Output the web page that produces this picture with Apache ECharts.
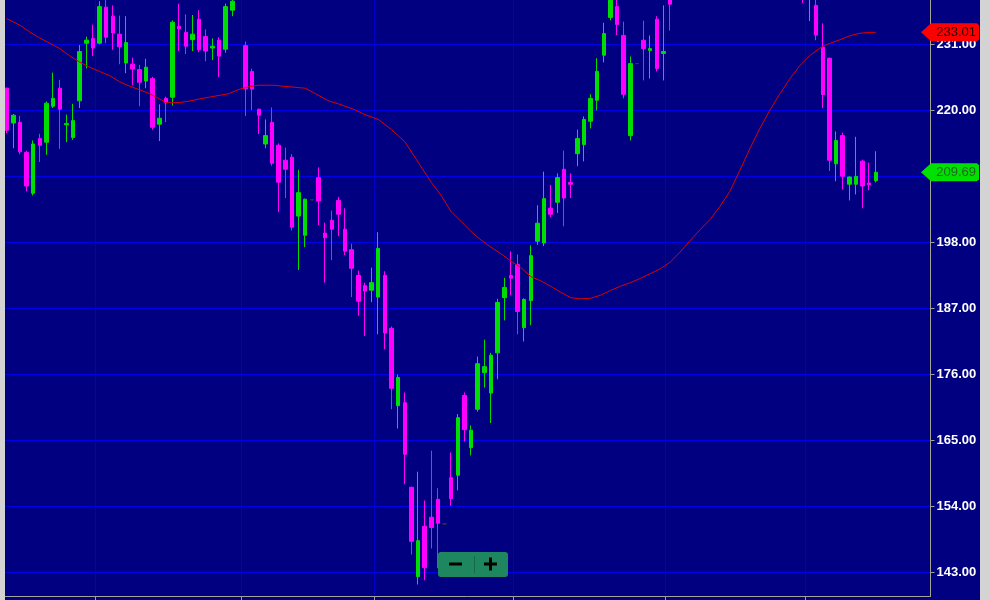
<!DOCTYPE html>
<html><head><meta charset="utf-8">
<script src="https://cdn.jsdelivr.net/npm/echarts@6/dist/echarts.min.js"></script>
<style>
html,body{margin:0;padding:0;background:#d3d3d3;width:990px;height:600px;overflow:hidden}
#c{position:absolute;left:5px;top:0;width:975px;height:600px}
</style>
</head><body><div id="c"></div>
<script>
// ---- data ----
const opens = [223.7,217.9,218.0,213.0,206.2,215.3,214.7,220.7,223.7,217.6,215.5,221.6,231.2,232.0,231.2,237.2,235.7,232.7,227.9,227.7,
226.8,224.9,225.3,217.7,222.0,222.2,234.0,233.0,231.8,235.2,232.3,230.4,231.7,230.2,236.7,240.0,230.8,226.5,220.2,214.4,
218.0,214.2,211.7,212.2,202.4,199.2,205.1,208.8,199.55,201.7,205.0,200.2,196.8,192.5,190.8,190.05,188.9,192.5,183.7,170.8,
171.3,157.2,142.3,150.7,152.2,155.2,151.1,158.8,159.2,172.5,163.8,170.2,176.3,172.9,179.6,188.8,192.5,194.3,183.8,188.3,
198.2,197.9,203.7,204.7,210.2,208.0,212.8,214.3,218.2,221.7,229.2,235.5,237.3,232.5,215.8,227.8,231.7,230.0,235.2,229.5,
239.5,240.5,244.5,248.5,246.5,251.0,254.0,252.5,256.5,259.5,257.5,261.0,259.0,255.0,257.0,252.5,253.5,249.0,250.0,246.5,
243.0,239.0,237.5,230.55,228.7,211.1,215.8,207.7,207.7,211.55,207.9,208.3];
const closes = [216.7,219.2,213.1,207.4,214.4,214.2,221.2,222.0,220.2,217.8,218.3,229.8,231.7,230.4,237.3,232.2,232.9,230.6,231.3,226.9,
224.7,227.2,217.2,218.7,221.3,234.7,233.6,230.7,232.7,230.1,229.9,230.7,229.05,237.3,238.2,241.5,223.6,223.55,219.2,215.8,
211.2,208.05,210.2,200.55,206.3,205.2,205.1,204.9,198.8,200.2,202.7,196.55,193.7,188.2,189.9,191.3,197.0,182.9,173.7,175.5,
162.7,148.2,148.3,143.8,150.5,151.2,151.1,155.3,168.8,166.8,166.7,177.8,177.3,179.2,188.0,190.5,192.05,186.5,188.5,195.8,
201.2,205.3,202.7,208.8,205.4,207.7,215.3,218.5,222.0,226.5,232.8,239.5,234.3,222.7,227.8,227.8,230.3,230.3,227.0,229.8,
237.7,244.0,248.0,246.0,250.5,254.5,252.0,256.0,259.0,257.0,261.5,259.5,255.5,257.5,253.0,254.0,249.5,250.5,246.0,244.0,
240.0,241.5,232.55,222.65,211.7,215.0,209.05,208.9,209.0,207.4,207.6,209.69];
const lows = [216.2,213.7,212.7,206.5,205.8,211.4,212.6,220.4,213.6,214.7,215.1,220.4,227.0,229.05,231.0,231.2,230.1,227.7,226.2,224.2,
220.7,223.7,216.8,214.9,218.05,220.8,229.9,229.4,229.9,229.7,228.2,228.4,225.55,229.6,235.7,238.9,219.05,220.05,216.05,213.7,
210.8,203.05,205.4,200.0,193.4,197.2,205.1,200.9,191.3,195.05,199.05,195.9,188.9,185.8,182.4,188.05,182.7,180.2,170.2,167.0,
157.7,146.0,141.0,141.7,147.0,143.7,151.1,154.1,156.7,164.8,162.5,169.8,173.8,167.9,175.2,185.0,189.2,182.7,181.5,184.2,
197.6,197.4,202.2,202.9,200.7,205.4,210.7,211.5,217.0,220.0,228.0,235.0,232.55,222.0,215.0,227.8,225.0,225.3,226.5,225.0,
233.3,239.0,243.0,244.5,245.0,249.5,250.0,251.0,255.0,255.5,256.0,257.5,254.0,253.5,251.5,250.0,248.0,246.5,244.5,242.0,
237.9,234.9,231.7,220.4,209.9,208.2,206.8,205.0,206.0,203.7,206.7,208.0];
const highs = [223.8,219.4,219.1,213.3,215.0,216.1,221.5,226.3,225.1,219.3,221.1,230.9,232.3,234.3,238.2,239.0,237.5,235.8,235.7,228.8,
227.6,228.6,225.6,221.0,222.3,235.0,237.8,236.0,235.9,236.7,233.5,232.0,232.2,237.8,239.0,243.0,231.5,226.95,220.3,218.5,
220.5,214.5,213.8,212.7,210.1,205.3,205.1,210.5,201.3,203.3,205.6,203.7,197.8,193.3,191.3,193.8,199.7,193.2,184.0,176.0,
173.0,157.3,159.8,155.0,163.3,157.05,151.1,163.0,169.4,173.0,167.5,179.0,181.8,179.6,188.6,192.1,196.5,196.0,188.7,197.5,
204.2,209.8,207.6,209.5,213.3,209.5,216.8,219.0,222.7,228.7,234.6,240.5,239.5,234.8,229.0,227.8,234.95,232.5,235.7,237.5,
241.0,245.5,249.5,250.0,252.0,256.0,255.5,257.5,260.5,261.0,263.0,262.5,260.0,258.5,258.0,255.5,254.5,252.0,251.0,247.5,
244.5,243.0,240.0,234.5,228.8,216.5,216.3,209.0,215.6,211.8,211.3,213.2];

// moving average, read at candle-index positions
const maIdx = [0,2,3.5,5,6.5,8,9.5,11,12.5,14,15.5,17,18.5,20,21.5,23,24,26,27.5,29,30.5,32,33.5,35,36.5,38,40,42.5,45,46.5,
48.5,50,52.5,54,56,58,60,62,64,65.5,67,68.5,70,71.5,73,74.5,76,77.5,79,80.5,82,83.5,85,86.5,88,89.5,91,92.5,94,95.5,
97,98.5,100,101.5,103,104.5,106,107.5,109,110.5,112,113.5,115,116.5,118,119.5,121,122.5,124,125.5,127,128.5,130,131];
const maVal = [235.3,234.2,233.05,232.05,231.2,230.3,229.1,228.05,227.2,226.5,225.8,224.8,224.05,223.45,222.8,221.95,221.3,221.3,221.55,221.9,
222.2,222.5,222.8,223.5,223.95,224.2,224.2,223.95,223.7,222.8,221.6,221.1,220.1,219.3,218.5,216.8,214.8,211.4,208.0,205.8,
203.1,201.5,199.8,198.4,197.2,196.1,194.9,193.8,192.3,191.6,190.7,189.7,188.8,188.6,188.7,189.2,190.0,190.7,191.3,192.0,
192.8,193.6,194.7,196.4,198.3,200.1,201.8,204.0,206.5,210.0,213.6,216.95,220.0,222.7,225.2,227.4,229.1,230.35,231.15,231.75,
232.4,232.85,233.0,233.01];

const yTicks = [143,154,165,176,187,198,209,220,231];
const monthBreaks = [13.36,35.32,55.41,76.35,99.27,120.42];

// ---- chart ----
const candles = opens.map((o,i)=>[i,o,closes[i],lows[i],highs[i]]);
const maData = maIdx.map((x,i)=>[x,maVal[i]]);
const chart = echarts.init(document.getElementById('c'), null, {renderer:'canvas'});
const axisGray = '#a3a396';
chart.setOption({
  animation:false,
  backgroundColor:'#000080',
  grid:{left:0, right:49.5, top:0, bottom:3.5, containLabel:false},
  xAxis:{
    type:'value', min:-0.252, max:139.24,
    axisLine:{show:true, onZero:false, lineStyle:{color:axisGray, width:1}},
    axisTick:{show:true, customValues:monthBreaks, length:4, lineStyle:{color:axisGray}},
    axisLabel:{show:false, customValues:monthBreaks},
    splitLine:{show:true, lineStyle:{color:'#0000c8', width:1}}
  },
  yAxis:{
    type:'value', position:'right', min:139.0, max:238.4, scale:true,
    axisLine:{show:true, onZero:false, lineStyle:{color:axisGray, width:1}},
    axisTick:{show:true, customValues:yTicks, length:4, lineStyle:{color:axisGray}},
    axisLabel:{customValues:yTicks, formatter:v=>v.toFixed(2), color:'#ffffff', fontSize:13, fontWeight:'bold',
      fontFamily:'"Liberation Sans", Arial, sans-serif', margin:6},
    splitLine:{show:true, lineStyle:{color:'#0000e6', width:1}}
  },
  series:[{
    type:'candlestick', data:candles, barWidth:4, clip:true,
    itemStyle:{color:'#00dd00', color0:'#ff00ff', borderColor:'#00dd00', borderColor0:'#ff00ff',
      borderColorDoji:'#3a3a3a', borderWidth:1}
  },{
    type:'line', data:maData, showSymbol:false, symbol:'none', clip:true,
    lineStyle:{color:'#dd0000', width:1}
  }]
});

function tag(val, fill, textFill){
  const cy = chart.convertToPixel({yAxisIndex:0}, val);
  return {type:'group', z:100, zlevel:1, children:[
    {type:'polygon', z:100, zlevel:1, shape:{points:[[916,cy],[926,cy-9],[972,cy-9],[974,cy-7],[974,cy+7],[972,cy+9],[926,cy+9]]},
     style:{fill:fill}},
    {type:'text', z:101, zlevel:1, style:{text:val.toFixed(2), x:971, y:cy+0.5, align:'right', verticalAlign:'middle',
      font:'13px "Liberation Sans", Arial, sans-serif', fill:textFill}}
  ]};
}
chart.setOption({graphic:[
  tag(maVal[maVal.length-1], '#ff0000', '#2a0000'),
  tag(closes[closes.length-1], '#00e000', '#246424'),
  {type:'group', left:433, top:552, z:100, zlevel:1, children:[
    {type:'rect', z:100, zlevel:1, shape:{x:0,y:0,width:70,height:25,r:3}, style:{fill:'#1e875f'}},
    {type:'rect', z:101, zlevel:1, shape:{x:11,y:10.5,width:13,height:3}, style:{fill:'#000'}},
    {type:'rect', z:101, zlevel:1, shape:{x:46,y:10.5,width:13,height:3}, style:{fill:'#000'}},
    {type:'rect', z:101, zlevel:1, shape:{x:51,y:5.5,width:3,height:13}, style:{fill:'#000'}},
    {type:'line', z:101, zlevel:1, shape:{x1:36.5,y1:4,x2:36.5,y2:21}, style:{stroke:'#156a47', lineWidth:1}}
  ]}
]});
</script>
</body></html>
